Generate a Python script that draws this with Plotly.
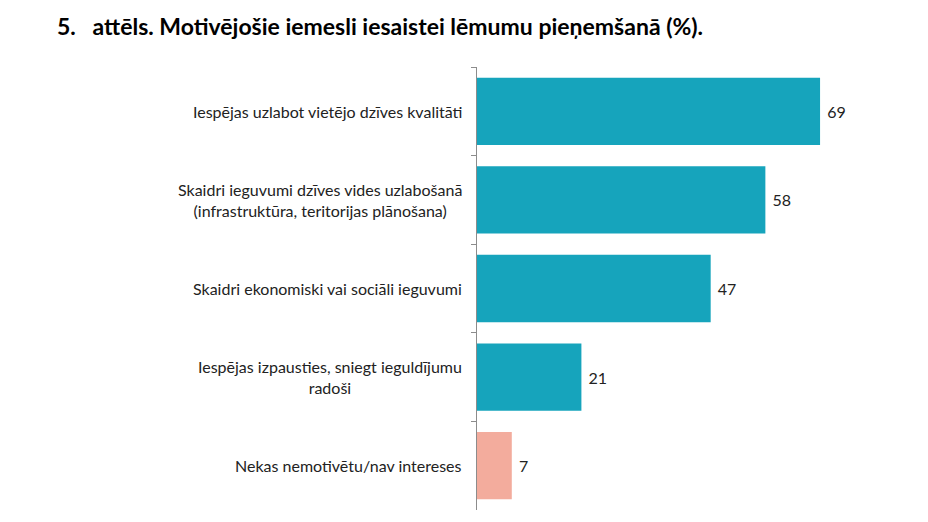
import plotly.graph_objects as go

categories = [
    "Iespējas uzlabot vietējo dzīves kvalitāti",
    "Skaidri ieguvumi dzīves vides uzlabošanā<br>(infrastruktūra, teritorijas plānošana)",
    "Skaidri ekonomiski vai sociāli ieguvumi",
    "Iespējas izpausties, sniegt ieguldījumu<br>radoši",
    "Nekas nemotivētu/nav intereses",
]
values = [69, 58, 47, 21, 7]
colors = ["#16A4BC", "#16A4BC", "#16A4BC", "#16A4BC", "#F3AC9D"]
title = "5.   attēls. Motivējošie iemesli iesaistei lēmumu pieņemšanā (%)."

FONT = "Lato"
W, H = 920, 514

fig = go.Figure()
fig.add_trace(go.Bar(
    y=categories,
    x=values,
    orientation="h",
    marker=dict(color=colors, line=dict(width=0)),
    text=["\u00a0" + str(v) for v in values],
    textposition="outside",
    textfont=dict(family=FONT, size=16, color="#222222"),
    cliponaxis=False,
    hoverinfo="skip",
))

for c in categories:
    fig.add_annotation(
        x=0, xref="paper", y=c, yref="y",
        text=c, showarrow=False, xanchor="right", yanchor="middle",
        xshift=-13, align="center",
        font=dict(family=FONT, size=16, color="#222222"),
    )

fig.update_layout(
    width=W,
    height=H,
    margin=dict(l=469, r=10, t=59, b=12),
    paper_bgcolor="white",
    plot_bgcolor="white",
    showlegend=False,
    bargap=0.24,
    title=dict(
        text="<b>" + title + "</b>",
        x=49 / W, xanchor="left",
        y=1 - 19 / H, yanchor="middle",
        font=dict(family=FONT, size=23, color="#000000"),
    ),
    xaxis=dict(
        range=[0, 88.7],
        visible=False,
        showgrid=False,
        zeroline=False,
    ),
    yaxis=dict(
        autorange="reversed",
        showticklabels=False,
        showgrid=False,
        zeroline=False,
        showline=True,
        linecolor="#8C8C8C",
        linewidth=1,
        ticks="outside",
        tickson="boundaries",
        ticklen=5,
        tickcolor="#8C8C8C",
    ),
)

fig.write_html("out.html")
